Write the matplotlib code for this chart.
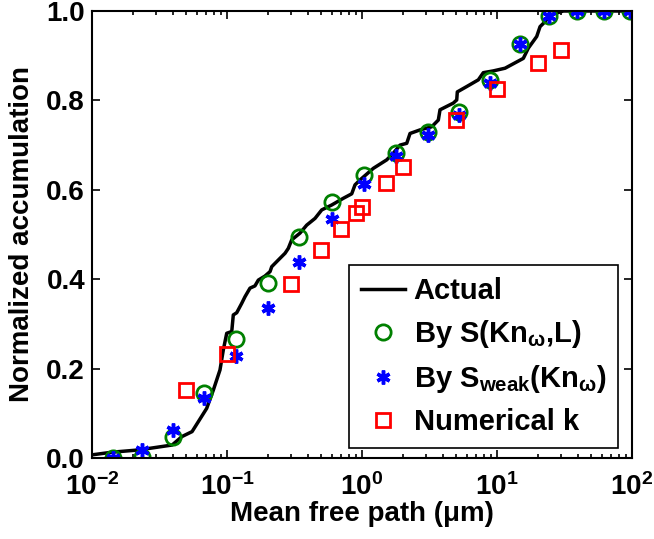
import numpy as np
import matplotlib
matplotlib.use("Agg")
import matplotlib.pyplot as plt
from matplotlib.ticker import FormatStrFormatter, LogLocator

# Actual accumulation curve (traced)
actual_x = [0.0100, 0.0141, 0.0222, 0.0392, 0.0464, 0.0551, 0.0707, 0.0792, 0.0887,
            0.0939, 0.0995, 0.1084, 0.1113, 0.118, 0.1285, 0.136, 0.148, 0.161,
            0.1706, 0.191, 0.2083, 0.2144, 0.240, 0.269, 0.2845, 0.3015, 0.347,
            0.3895, 0.4486, 0.503, 0.5964, 0.727, 0.839, 0.887, 0.966, 1.213,
            1.524, 1.706, 1.912, 2.144, 2.268, 2.689, 3.283, 3.674, 3.782, 4.746,
            5.029, 5.080, 5.966, 7.27, 7.915, 9.39, 11.47, 15.66, 17.06, 19.68,
            20.83, 22.68, 24.7, 31.0, 100.0]
actual_y = [0.007, 0.013, 0.018, 0.029, 0.048, 0.059, 0.111, 0.152, 0.197,
            0.242, 0.279, 0.283, 0.320, 0.325, 0.346, 0.361, 0.380, 0.385,
            0.398, 0.407, 0.417, 0.428, 0.443, 0.458, 0.469, 0.488, 0.503,
            0.521, 0.536, 0.555, 0.566, 0.581, 0.591, 0.611, 0.622, 0.648,
            0.667, 0.682, 0.700, 0.704, 0.726, 0.734, 0.741, 0.756, 0.779, 0.794,
            0.801, 0.819, 0.831, 0.846, 0.862, 0.866, 0.872, 0.894, 0.917, 0.943,
            0.965, 0.976, 0.991, 1.0, 1.0]

# model points (same mean free path grid for both S models)
model_x = [0.0142, 0.0236, 0.040, 0.0676, 0.116, 0.200, 0.344, 0.597, 1.04,
           1.79, 3.10, 5.24, 8.83, 14.7, 24.3, 38.9, 62.4, 96.6]
s_full_y = [0.000, 0.003, 0.048, 0.145, 0.266, 0.391, 0.495, 0.573, 0.633,
            0.682, 0.729, 0.775, 0.846, 0.926, 0.989, 1.0, 1.0, 1.0]
s_weak_y = [0.000, 0.018, 0.063, 0.135, 0.229, 0.336, 0.439, 0.535, 0.614,
            0.676, 0.723, 0.767, 0.840, 0.926, 0.989, 1.0, 1.0, 1.0]

# numerical k
num_x = [0.05, 0.1, 0.3, 0.5, 0.7, 0.9, 1.0, 1.5, 2.0, 5.0, 10.0, 20.0, 30.0]
num_y = [0.151, 0.232, 0.389, 0.466, 0.512, 0.547, 0.561, 0.616, 0.650,
         0.756, 0.825, 0.884, 0.913]

plt.rcParams['font.family'] = ['Liberation Sans', 'DejaVu Sans']
plt.rcParams['font.weight'] = 'bold'
plt.rcParams['mathtext.fontset'] = 'custom'
plt.rcParams['mathtext.rm'] = 'Liberation Sans:bold'
plt.rcParams['mathtext.it'] = 'Liberation Sans:bold'
plt.rcParams['mathtext.bf'] = 'Liberation Sans:bold'

fig = plt.figure(figsize=(6.54, 5.39), dpi=100)
ax = fig.add_axes([0.1407, 0.1503, 0.8257, 0.8293])

ax.plot(actual_x, actual_y, color='black', lw=2.5, label='Actual')
ax.plot(model_x, s_full_y, 'o', mfc='none', mec='green', ms=11, mew=2,
        label=r'By S(Kn$_{\omega}$,L)')
ax.plot(model_x, s_weak_y, marker=(6, 2, 0), ls='none', color='blue', ms=10, mew=2.5,
        label=r'By S$_{\mathbf{weak}}$(Kn$_{\omega}$)')
ax.plot(num_x, num_y, 's', mfc='none', mec='red', ms=10, mew=2, label='Numerical k')

ax.set_xscale('log')
ax.set_xlim(1e-2, 1e2)
ax.set_ylim(0, 1)
ax.set_yticks([0, 0.2, 0.4, 0.6, 0.8, 1.0])
ax.yaxis.set_major_formatter(FormatStrFormatter('%.1f'))
ax.xaxis.set_minor_locator(LogLocator(base=10, subs=np.arange(2, 10)))

ax.tick_params(which='both', direction='in', top=True, right=True, labelsize=20, width=1.2)
ax.tick_params(which='major', length=6)
ax.tick_params(which='minor', length=3)
ax.tick_params(axis='x', which='major', pad=11)
ax.tick_params(axis='y', which='major', pad=5)
for s in ax.spines.values():
    s.set_linewidth(1.5)

ax.set_xlabel('Mean free path (μm)', fontsize=20, fontweight='bold', labelpad=0)
ax.set_ylabel('Normalized accumulation', fontsize=20, fontweight='bold', labelpad=8)

leg = ax.legend(loc='lower right', bbox_to_anchor=(0.974, 0.022), borderaxespad=0,
                fontsize=21, fancybox=False, framealpha=1, edgecolor='black',
                handlelength=1.5, handletextpad=0.3, labelspacing=0.45, borderpad=0.4)
leg.get_frame().set_linewidth(1.2)

fig.savefig('out.png', dpi=100)
